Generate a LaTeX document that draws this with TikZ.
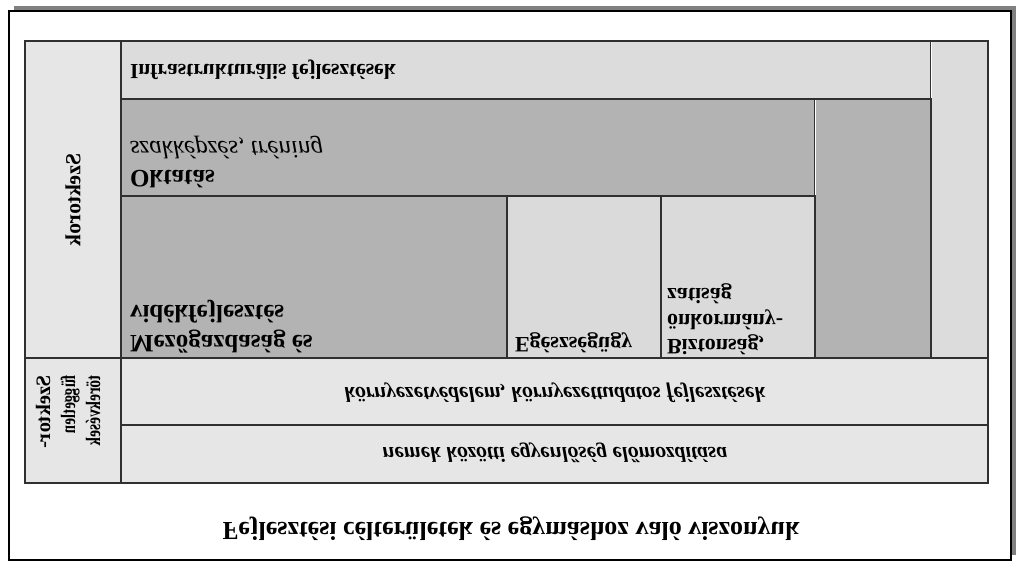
\documentclass[tikz,border=0pt]{standalone}
\usepackage{fontspec}
\setmainfont{Liberation Serif}
\definecolor{cLight}{HTML}{E6E6E6}
\definecolor{cInfra}{HTML}{DCDCDC}
\definecolor{cMid}{HTML}{DADADA}
\definecolor{cDark}{HTML}{B3B3B3}
\definecolor{cShadow}{HTML}{808080}
\definecolor{cLine}{HTML}{303030}
\begin{document}
\begin{tikzpicture}[x=1pt,y=1pt,yscale=-1,
  every node/.append style={transform shape, inner sep=0pt, outer sep=0pt},
  cell/.style={draw=cLine, line width=1.1pt},
  lbl/.style={font=\fontsize{21.5}{25}\selectfont\bfseries, anchor=base west},
  big/.style={font=\fontsize{25}{29}\selectfont\bfseries, anchor=base west},
  mid/.style={font=\fontsize{22}{25}\selectfont\bfseries, anchor=base west},
  cross/.style={font=\fontsize{21.5}{25}\selectfont\bfseries\itshape, anchor=base},
]
\useasboundingbox (0,0) rectangle (1024,568);
% frame with shadow
\fill[cShadow] (14,6) rectangle (1015.5,555);
\draw[line width=2pt, fill=white] (9,11) rectangle (1010.5,560);
% cells
\path[cell, fill=cLight] (25,41) rectangle (121,358);
\path[cell, fill=cInfra] (121,41) rectangle (931,99);
\path[cell, fill=cInfra] (931,41) rectangle (988,358);
\path[cell, fill=cDark] (121,99) rectangle (815,196);
\path[cell, fill=cDark] (815,99) rectangle (931,358);
\path[cell, fill=cDark] (121,196) rectangle (507,358);
\path[cell, fill=cMid] (507,196) rectangle (661,358);
\path[cell, fill=cMid] (661,196) rectangle (815,358);
\path[cell, fill=cLight] (25,358) rectangle (121,483);
\path[cell, fill=cLight] (121,358) rectangle (988,425);
\path[cell, fill=cLight] (121,425) rectangle (988,483);
\draw[white, line width=1pt] (931,42) -- (931,98);
\draw[white, line width=1pt] (815,100) -- (815,195);
% texts
\node[lbl] (infra) at (130,64) {Infrastrukturális fejlesztések};
\node[big, font=\fontsize{25}{29}\selectfont\itshape] (szak) at (130,141) {szakképzés, tréning};
\node[big] (okt) at (130,170) {Oktatás};
\node[big] (mezo2) at (130,305) {vidékfejlesztés};
\node[big] (mezo1) at (130,335) {Mezőgazdaság és};
\node[mid] (egesz) at (515,337) {Egészségügy};
\node[mid] (bizt1) at (667,339) {Biztonság,};
\node[mid] (bizt2) at (667,314) {önkormány-};
\node[mid] (bizt3) at (667,288) {zatiság};
\node[font=\fontsize{21.5}{25}\selectfont\bfseries, rotate=90] (szek) at (73,200) {Szektorok};
\node[font=\fontsize{20.5}{25}\selectfont\bfseries, rotate=90, align=left, anchor=west] (fugg) at (68,375) {Szektor-\\\scalebox{0.72}[1]{független}\\\scalebox{0.75}[1]{törekvések}};
\node[cross] (korny) at (555,387) {környezetvédelem, környezettudatos fejlesztések};
\node[cross] (nemek) at (555,447) {nemek közötti egyenlőség előmozdítása};
\node[font=\fontsize{26}{30}\selectfont\bfseries, anchor=base] (title) at (511,522) {Fejlesztési célterületek és egymáshoz való viszonyuk};
\end{tikzpicture}
\end{document}
